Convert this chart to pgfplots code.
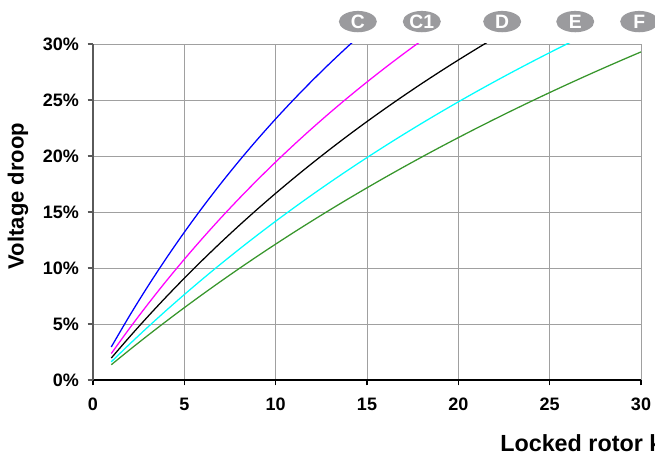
\documentclass[border=0pt]{standalone}
\usepackage{pgfplots}
\pgfplotsset{compat=1.18}
\usetikzlibrary{shapes.geometric}
\usepackage{fontspec}
\setmainfont{Liberation Sans}
\definecolor{fgreen}{RGB}{56,150,44}
\definecolor{cblue}{RGB}{0,0,255}
\definecolor{cmag}{RGB}{255,0,255}
\definecolor{ccyan}{RGB}{0,255,255}
\definecolor{lblgray}{RGB}{155,155,158}
\definecolor{axgray}{RGB}{90,90,90}
\definecolor{gridgray}{RGB}{160,160,160}
\begin{document}
\begin{tikzpicture}
\useasboundingbox (-69.75pt,-55.5pt) rectangle (421.5pt,285pt);
\clip (-69.75pt,-55.5pt) rectangle (421.5pt,285pt);
\begin{axis}[
  at={(0,0)}, anchor=south west,
  width=411pt, height=252pt, scale only axis,
  xmin=0, xmax=30, ymin=0, ymax=30,
  xtick={0,5,...,30}, ytick={0,5,...,30},
  axis lines=left,
  x axis line style={-, black, line width=1.1pt},
  y axis line style={-, axgray, line width=1.4pt},
  grid=major, major grid style={gridgray, line width=0.6pt},
  tick align=outside, major tick length=4pt,
  xtick style={black, line width=0.8pt},
  ytick style={axgray, line width=0.8pt},
  tick label style={font=\fontsize{13.5}{16}\selectfont\bfseries},
  /pgf/number format/assume math mode=true,
  yticklabel={\pgfmathprintnumber{\tick}\%},
  xticklabel style={yshift=-6pt},
  yticklabel style={xshift=-3pt},
  clip mode=individual,
  every axis plot/.append style={line width=0.95pt, mark=none, smooth},
]
\addplot[cblue] coordinates {(1,2.950)(2,5.732)(3,8.358)(4,10.842)(5,13.194)(6,15.426)(7,17.546)(8,19.562)(9,21.482)(10,23.313)(11,25.060)(12,26.729)(13,28.326)(14,29.854)(15,31.319)};
\addplot[cmag] coordinates {(1,2.360)(2,4.611)(3,6.761)(4,8.816)(5,10.782)(6,12.665)(7,14.471)(8,16.203)(9,17.866)(10,19.465)(11,21.003)(12,22.483)(13,23.909)(14,25.283)(15,26.608)(16,27.888)(17,29.123)(18,30.317)(19,31.470)};
\addplot[black] coordinates {(1,1.961)(2,3.846)(3,5.660)(4,7.407)(5,9.091)(6,10.714)(7,12.281)(8,13.793)(9,15.254)(10,16.667)(11,18.033)(12,19.355)(13,20.635)(14,21.875)(15,23.077)(16,24.242)(17,25.373)(18,26.471)(19,27.536)(20,28.571)(21,29.577)(22,30.556)};
\addplot[ccyan] coordinates {(1,1.625)(2,3.198)(3,4.722)(4,6.198)(5,7.630)(6,9.018)(7,10.365)(8,11.673)(9,12.943)(10,14.178)(11,15.378)(12,16.544)(13,17.679)(14,18.784)(15,19.859)(16,20.906)(17,21.926)(18,22.920)(19,23.889)(20,24.835)(21,25.757)(22,26.656)(23,27.534)(24,28.391)(25,29.229)(26,30.046)(27,30.846)};
\addplot[fgreen] coordinates {(1,1.362)(2,2.688)(3,3.978)(4,5.235)(5,6.459)(6,7.652)(7,8.815)(8,9.949)(9,11.055)(10,12.134)(11,13.188)(12,14.216)(13,15.220)(14,16.202)(15,17.160)(16,18.097)(17,19.013)(18,19.909)(19,20.785)(20,21.642)(21,22.481)(22,23.302)(23,24.106)(24,24.893)(25,25.664)(26,26.420)(27,27.160)(28,27.885)(29,28.596)(30,29.294)};
\tikzset{lbl/.style={ellipse, fill=lblgray, text=white, inner sep=0pt, minimum width=28.5pt, minimum height=16pt, font=\fontsize{14.5}{16}\selectfont\bfseries}}
\node[lbl] at (axis cs:14.5,32.0) {C};
\node[lbl] at (axis cs:18.0,32.0) {C1};
\node[lbl] at (axis cs:22.4,32.0) {D};
\node[lbl] at (axis cs:26.4,32.0) {E};
\node[lbl] at (axis cs:29.9,32.0) {F};
\end{axis}
\node[rotate=90, font=\fontsize{16.5}{19}\selectfont\bfseries] at (-56.25pt,138pt) {Voltage droop};
\node[anchor=base west, inner sep=0pt, font=\fontsize{17.5}{20}\selectfont\bfseries] at (305.25pt,-53.25pt) {Locked rotor kVA};
\end{tikzpicture}
\end{document}
